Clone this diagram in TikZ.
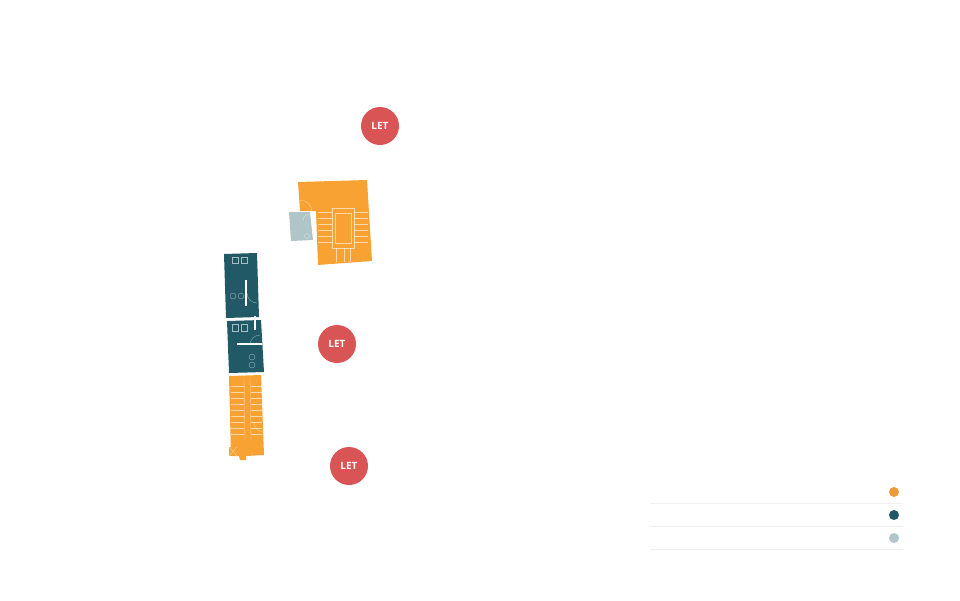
\documentclass[tikz,border=0pt]{standalone}
\usepackage{fontspec}
\setmainfont{Open Sans}
\definecolor{org}{HTML}{F7A233}
\definecolor{teal}{HTML}{215A66}
\definecolor{gry}{HTML}{B0C5C8}
\definecolor{letred}{HTML}{D95455}
\definecolor{lorg}{HTML}{EB9B38}
\tikzset{x=1pt,y=-1pt,
 let/.style={circle,fill=letred,minimum size=38pt,inner sep=0pt,text=white,font=\bfseries\fontsize{10}{10}\selectfont},
 dot/.style={circle,minimum size=10pt,inner sep=0pt},
 wl/.style={white,line width=0.3pt,opacity=0.6},
 sep/.style={gray!12,line width=0.6pt}}
\begin{document}
\begin{tikzpicture}
\useasboundingbox (0,0) rectangle (960,600);
% top orange
\fill[org] (298,182)--(367,180)--(372,261)--(318,265)--(316,211)--(300,211)--cycle;
\fill[gry] (289,212)--(310,212)--(313,240)--(291,241)--cycle;
\draw[wl] (332,208) rectangle (354,248);
\draw[wl] (335,213) rectangle (351,243);
\foreach \y in {212,218,224,230,236,242} {\draw[wl] (318,\y)--(332,\y); \draw[wl] (354,\y)--(368,\y);}
\draw[wl] (336,248)--(336,262) (344,248)--(344,262) (350,248)--(350,262);
\draw[wl] (350,181) arc (180:270:17);
\draw[wl] (300,200) arc (-90:0:12);
\draw[wl] (303,221) arc (180:270:7);
\draw[wl] (307,236) circle (2.5);
% teal
\fill[teal] (224,254)--(257,253)--(259,317)--(226,318)--cycle;
\fill[teal] (227,321)--(261,320)--(264,372)--(229,373)--cycle;
\draw[white,line width=1.5pt] (246,280)--(246,306) (255,316)--(255,330) (237,344)--(262,344);
\foreach \x in {235,244} {\draw[wl] (\x-3,257) rectangle (\x+3,263); \draw[wl] (\x-3,324) rectangle (\x+3,331);}
\draw[wl] (233,296) circle (3) (241,296) circle (3);
\draw[wl] (252,357) circle (3) (252,365) circle (3);
\draw[wl] (257,303) arc (90:180:10) (260,335) arc (-90:-180:10);
% lower orange
\fill[org] (229,376)--(261,375)--(264,455)--(246,456)--(246,460)--(240,460)--(239,456)--(231,456)--cycle;
\fill[org] (229,447) rectangle (237,456);
\draw[wl] (244,378)--(245,440) (250,378)--(251,440);
\foreach \y in {386,392,...,434} {\draw[wl] (231,\y)--(244,\y); \draw[wl] (251,\y)--(262,\y);}
\draw[wl] (264,432) arc (90:180:10);
\draw[wl] (229,447)--(237,456) (237,447)--(229,456);
% LET
\node[let] (l1) at (380,126) {LET};
\node[let] (l2) at (337,344) {LET};
\node[let] (l3) at (349,466) {LET};
% legend
\draw[sep] (650,503)--(903,503) (650,526)--(903,526) (650,549)--(903,549);
\node[dot,fill=lorg] (d1) at (894,492) {};
\node[dot,fill=teal] (d2) at (894,515) {};
\node[dot,fill=gry] (d3) at (894,538) {};
\end{tikzpicture}
\end{document}
